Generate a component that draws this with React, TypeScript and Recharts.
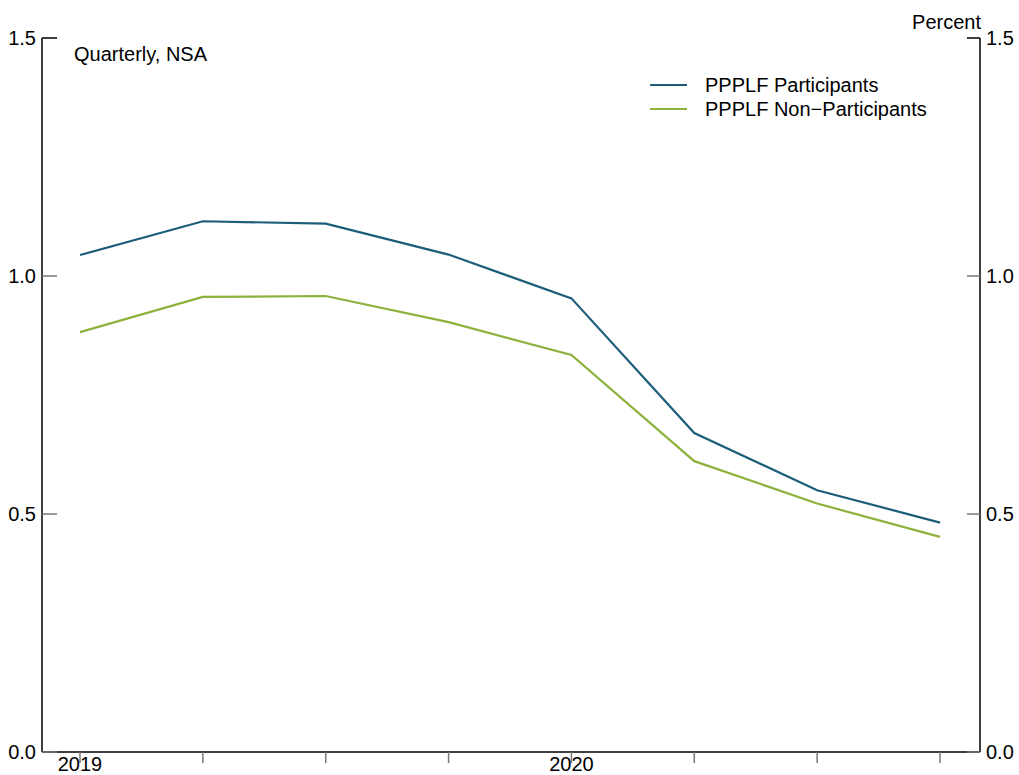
import { LineChart, Line, XAxis, YAxis } from "recharts";

const quarters = ["2019 Q1", "2019 Q2", "2019 Q3", "2019 Q4", "2020 Q1", "2020 Q2", "2020 Q3", "2020 Q4"];
const participants = [1.044, 1.115, 1.11, 1.045, 0.953, 0.67, 0.55, 0.482];
const nonParticipants = [0.882, 0.956, 0.958, 0.903, 0.834, 0.611, 0.522, 0.452];
const yTicks = [0, 0.5, 1.0, 1.5];
const seriesNames = ["PPPLF Participants", "PPPLF Non\u2212Participants"];

const TEAL = "#1c5e7a";
const GREEN = "#8cb23d";
const FONT = "'Liberation Sans', Arial, sans-serif";

const data = quarters.map((q, i) => ({
    q,
    participants: participants[i],
    nonParticipants: nonParticipants[i],
}));

function LeftTick(props: any) {
    const { x, y, payload } = props;
    return (
        <g>
            <line x1={x} x2={x + 15} y1={y} y2={y} stroke={payload.value === 1.5 ? "#000" : "#777"} strokeWidth={1.5} />
            <text x={x - 6} y={y} dy={7} textAnchor="end" fontSize={20} fill="#000" fontFamily={FONT}>
                {payload.value.toFixed(1)}
            </text>
        </g>
    );
}

function RightTick(props: any) {
    const { x, y, payload } = props;
    return (
        <g>
            <line x1={x - 13} x2={x} y1={y} y2={y} stroke={payload.value === 1.5 ? "#000" : "#777"} strokeWidth={1.5} />
            <text x={x + 6} y={y} dy={7} textAnchor="start" fontSize={20} fill="#000" fontFamily={FONT}>
                {payload.value.toFixed(1)}
            </text>
        </g>
    );
}

function XTick(props: any) {
    const { x, y, payload } = props;
    const label = payload.value.endsWith("Q1") ? payload.value.slice(0, 4) : "";
    return (
        <g>
            <line x1={x} x2={x} y1={y} y2={y + 11} stroke="#777" strokeWidth={1.5} />
            {label && (
                <text x={x} y={y + 19} textAnchor="middle" fontSize={20} fill="#000" fontFamily={FONT}>
                    {label}
                </text>
            )}
        </g>
    );
}

export default function App() {
    return (
        <div style={{ position: "absolute", left: 0, top: 0, width: 1019, height: 775, background: "#fff" }}>
            <LineChart width={1019} height={775} data={data} margin={{ top: 38, right: 0, left: 0, bottom: 0 }}>
                <XAxis
                    dataKey="q"
                    height={23}
                    padding={{ left: 38, right: 40 }}
                    axisLine={{ stroke: "#000", strokeWidth: 1.5 }}
                    tickLine={false}
                    tickSize={0}
                    tickMargin={0}
                    tick={<XTick />}
                    interval={0}
                />
                <YAxis
                    yAxisId="left"
                    width={42}
                    domain={[0, 1.5]}
                    ticks={yTicks}
                    axisLine={{ stroke: "#000", strokeWidth: 1.5 }}
                    tickLine={false}
                    tickSize={0}
                    tickMargin={0}
                    tick={<LeftTick />}
                    interval={0}
                />
                <YAxis
                    yAxisId="right"
                    orientation="right"
                    width={39}
                    domain={[0, 1.5]}
                    ticks={yTicks}
                    axisLine={{ stroke: "#000", strokeWidth: 1.5 }}
                    tickLine={false}
                    tickSize={0}
                    tickMargin={0}
                    tick={<RightTick />}
                    interval={0}
                />
                <Line yAxisId="left" dataKey="participants" name={seriesNames[0]} stroke={TEAL} strokeWidth={2.2} dot={false} isAnimationActive={false} />
                <Line yAxisId="right" dataKey="nonParticipants" name={seriesNames[1]} stroke={GREEN} strokeWidth={2.2} dot={false} isAnimationActive={false} />
                <text x={74} y={61} fontSize={20} fontFamily={FONT} fill="#000">Quarterly, NSA</text>
                <text x={981} y={29} fontSize={20} fontFamily={FONT} fill="#000" textAnchor="end">Percent</text>
                {/* legend, top right */}
                {seriesNames.map((name, i) => (
                    <g key={name}>
                        <line x1={650} x2={687} y1={85 + i * 24} y2={85 + i * 24} stroke={i === 0 ? TEAL : GREEN} strokeWidth={2.2} />
                        <text x={705} y={85 + i * 24} dy={7} fontSize={20} fontFamily={FONT} fill="#000">
                            {name}
                        </text>
                    </g>
                ))}
            </LineChart>
        </div>
    );
}
